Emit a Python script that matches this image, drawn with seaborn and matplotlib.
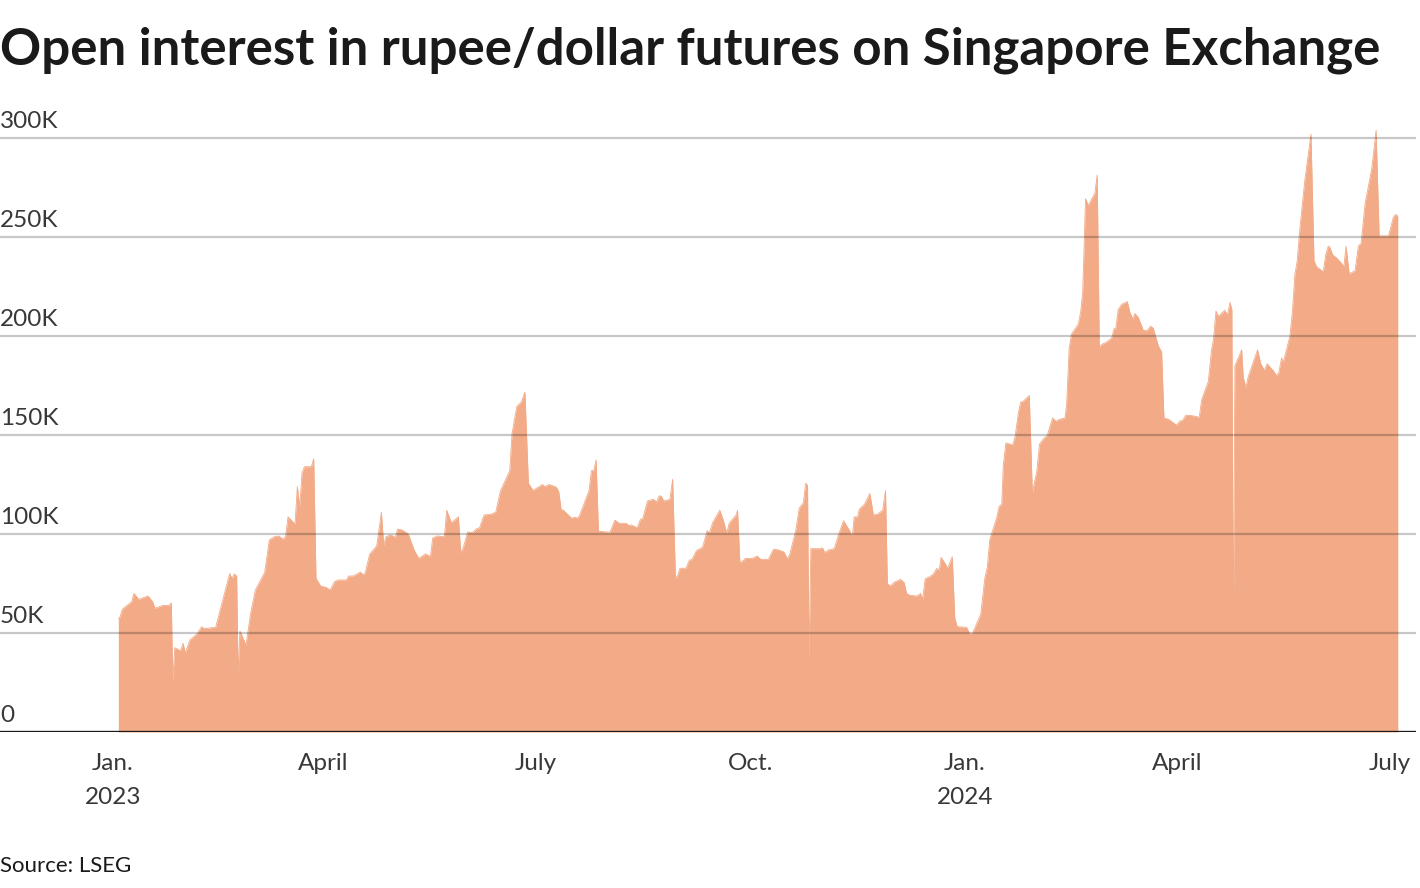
import matplotlib
matplotlib.use("Agg")
import matplotlib.pyplot as plt
import matplotlib.transforms as mtransforms
import seaborn as sns
import pandas as pd

# ---- data ----
# days after 2023-01-01, open interest in thousands of contracts
days = [
    2.3, 3, 4, 8, 9, 11, 15, 17, 18, 21.5, 24, 25, 25.6, 26.5, 29, 30, 31, 33, 36, 38, 39, 44,
    50, 51, 52, 53, 53.6, 54.4, 57, 59, 61, 65, 67, 69, 71, 73, 74, 75, 78, 79, 80, 81, 82, 85, 86,
    87, 89, 91.5, 93, 95, 96.5, 100, 101, 103, 106, 107, 108, 110, 113, 115, 116, 117, 119, 121,
    122, 124, 126.5, 129, 131, 134, 136, 137, 139, 142, 143, 145, 148, 149, 150, 152, 154, 156,
    157, 159, 162, 164, 166, 170, 171, 173, 175, 176.5, 178, 180, 184, 185, 187, 190, 191, 192,
    193, 196.5, 198, 199, 200, 204, 205, 206, 207, 208, 211.5, 213, 215, 217, 220, 221, 222,
    224.6, 226, 227, 229, 231.5, 233, 234, 235, 236, 238.6, 239.8, 241, 242, 243, 245.5, 247,
    248, 250, 252.6, 254.6, 255.5, 257, 260, 261.5, 263, 264, 267, 267.6, 268.6, 270, 271, 274,
    276, 277.6, 280.8, 283, 285, 287.5, 289, 290, 292.6, 294, 295.8, 296.8, 297.6, 298.2, 299,
    303, 304, 305, 306.5, 309, 311, 313, 315.5, 316.8, 317.6, 319, 319.8, 322, 324.3, 325.8,
    327.5, 329.8, 331, 331.8, 333, 335, 337.5, 339, 340, 341.5, 344.6, 346, 346.9, 348, 350,
    351.5, 353, 354, 354.8, 356.5, 357.6, 359.6, 360.7, 361.7, 365.7, 367.2, 368.3, 371.8,
    373.6, 374.6, 375.7, 378.6, 379.7, 380.8, 381.5, 382.6, 385.5, 386.5, 387.9, 388.9, 390,
    392.6, 393.9, 395.8, 397, 398.6, 400.3, 402.6, 404, 405.7, 407.9, 408.6, 409.7, 410.7,
    413.6, 414.6, 415.5, 416.2, 416.7, 417.9, 419.7, 420.7, 421.7, 422.6, 424, 425.8, 427.9,
    428.9, 429.7, 430.7, 432.2, 434.6, 435.7, 436.9, 437.9, 439.3, 441.4, 442.9, 444.6, 445.7,
    447.9, 449.3, 450.3, 452.2, 455.7, 457.1, 458.3, 459.7, 462.2, 465.4, 466.5, 469.3, 470.7,
    471.5, 472.6, 473.6, 476.4, 477.5, 478.6, 479.4, 480, 480.7, 483.6, 484.3, 485.4, 486.4,
    490.4, 491.8, 493.3, 494.5, 497.5, 498.5, 499.5, 500.7, 501.4, 504.3, 505.4, 506.4, 507.4,
    508.6, 510.7, 513.3, 514.6, 515.7, 518.6, 519.6, 520.7, 521.3, 522.6, 524.3, 526.5, 527.4,
    528.3, 529.7, 532.2, 533.6, 534.8, 536.5, 539.4, 541.2, 542.5, 546.5, 548.6, 549.6, 550.5,
]
open_interest_k = [
    57.4, 58, 62, 65.8, 70, 67, 68.7, 65.8, 62.5, 64, 63.8, 65.3, 26, 42.6, 41, 44.8, 40, 46.5,
    49.5, 53.2, 52.2, 52.9,
    80, 77.6, 79.8, 78.8, 28.8, 51, 44, 60, 71.7, 80.6, 97, 98.6, 99, 97.3, 99, 108.7, 105, 124,
    113.8, 130.6, 134, 134, 138,
    77.6, 73.7, 73, 71.7, 76, 76.8, 76.8, 78.8, 78.8, 80.8, 79.6, 80, 89.9, 94, 111, 94.4, 98.6,
    99.5, 98.3,
    102.5, 102, 100, 92, 87.7, 90, 88.5, 98, 99, 98.6, 112, 105.7, 108.7, 90.6, 92.8, 101, 100.7,
    102.9,
    103, 109.6, 110, 111, 121.7, 132, 150.8, 164.3, 166.8, 171.6, 125.6, 122, 125, 124, 125,
    123.6, 121.4, 112.5,
    112, 108, 108.5, 108, 109.6, 122, 132, 132, 137.4, 101.5, 101, 101, 107, 105.4, 105.4, 104.2,
    104.6,
    103.2, 107.4, 107.8, 116.7, 117.5, 116.2, 119.3, 119, 116.7, 117.5, 127.6, 77.6, 79.3, 82.7,
    82.7, 86.9,
    87, 91.6, 93.3, 101.7, 100.5, 105.9, 112, 107, 100.3, 105.4, 109.6, 112, 85.7, 86.5, 87.7,
    87.7,
    88.9, 87.2, 87.2, 92.3, 92, 90.9, 87.4, 89.9, 102, 113, 115.8, 125.6, 124.6, 34.7, 92.6,
    92.6, 93, 90.6, 91.9, 92.6, 100, 106.7, 102, 98.6, 108.7, 108.5, 112.6, 115, 120.5, 109.6,
    110, 112, 122, 75, 73.7, 75.8, 77.1, 75.4, 70, 69, 68.7, 70, 67, 77.4, 78.5,
    79.8, 82.7, 81.5, 88.2, 85.2, 82.7, 88.5, 57.4, 53.2, 52.9, 49.4, 50, 59.4,
    78, 83, 97.4, 108, 114, 115, 135, 146, 145, 149, 161, 166.6, 167,
    170, 121, 131.4, 145.4, 148, 149.8, 158.6, 157, 158, 158.6, 165.4, 194, 201,
    206, 212, 222, 249, 269.4, 266, 270, 272, 281.4, 194.6, 196, 197, 199,
    203.6, 204, 213.4, 216, 217.4, 212, 208.6, 211.4, 209.4, 203, 202.6, 205, 204,
    195, 192, 158.6, 158, 155, 157, 157.4, 160, 159.8, 159, 168, 177, 193,
    198, 212.6, 210, 213, 210.6, 217, 213.4, 47, 185, 193, 179, 174, 179.4,
    193, 186, 182.6, 186, 182, 180, 181.4, 189, 186.6, 200, 213, 231, 238,
    255, 279, 302, 238, 235, 232.4, 241, 245.4, 245, 241, 239.4, 236.6, 235,
    245.4, 231.4, 233, 245.4, 247, 267, 285, 304, 250.6, 250.6, 260, 261.4, 260.6,
]

tick_dates = ["2023-01-01", "2023-04-01", "2023-07-01", "2023-10-01",
              "2024-01-01", "2024-04-01", "2024-07-01"]
tick_labels = ["Jan.\n2023", "April", "July", "Oct.", "Jan.\n2024", "April", "July"]
y_ticks = [0, 50, 100, 150, 200, 250, 300]
y_labels = ["0", "50K", "100K", "150K", "200K", "250K", "300K"]

title = "Open interest in rupee/dollar futures on Singapore Exchange"
source = "Source: LSEG"

# ---- style ----
FILL = "#f2aa87"
TEXT = "#1a1a1a"
TICK = "#383838"

sns.set_theme(style="white")
plt.rcParams["font.family"] = ["Lato", "DejaVu Sans"]

origin = pd.Timestamp("2023-01-01")
df = pd.DataFrame({
    "date": origin + pd.to_timedelta(days, unit="D"),
    "oi": open_interest_k,
})

fig = plt.figure(figsize=(14.2, 8.88), dpi=100)
ax = fig.add_axes([0.0, 156 / 888, 1416 / 1420, (732 - 125) / 888])

ax.fill_between(df["date"], 0, df["oi"], color=FILL, lw=0, zorder=1)
sns.lineplot(data=df, x="date", y="oi", ax=ax, color=FILL, lw=0.6, zorder=2)

ax.set_xlim(origin - pd.Timedelta(days=48.4), origin + pd.Timedelta(days=558.3))
ax.set_ylim(0, 306.6)

for v in y_ticks[1:]:
    ax.axhline(v, color="black", alpha=0.22, lw=1.6, zorder=3)
ax.axhline(0, color=TEXT, lw=2.4, zorder=4)

for s in ax.spines.values():
    s.set_visible(False)
ax.set_yticks([])
ax.set_xlabel("")
ax.set_ylabel("")

ax.set_xticks(pd.to_datetime(tick_dates))
ax.set_xticklabels(tick_labels, fontsize=17.5, color=TICK, fontweight="normal",
                   linespacing=1.75)
ax.tick_params(axis="x", length=0, pad=15)

trans = mtransforms.offset_copy(
    mtransforms.blended_transform_factory(ax.transAxes, ax.transData),
    fig=fig, x=0, y=10, units="dots")
for v, lab in zip(y_ticks, y_labels):
    ax.text(0.0, v, lab, transform=trans, ha="left", va="baseline",
            fontsize=17.5, color=TICK, fontweight="normal")

fig.text(0.0, 1 - 50 / 888, title, ha="left", va="center", fontsize=36.7,
         fontweight="bold", color=TEXT)
fig.text(0.0, 1 - 866 / 888, source, ha="left", va="center", fontsize=16,
         color=TEXT)

fig.savefig("out.png", dpi=100)
